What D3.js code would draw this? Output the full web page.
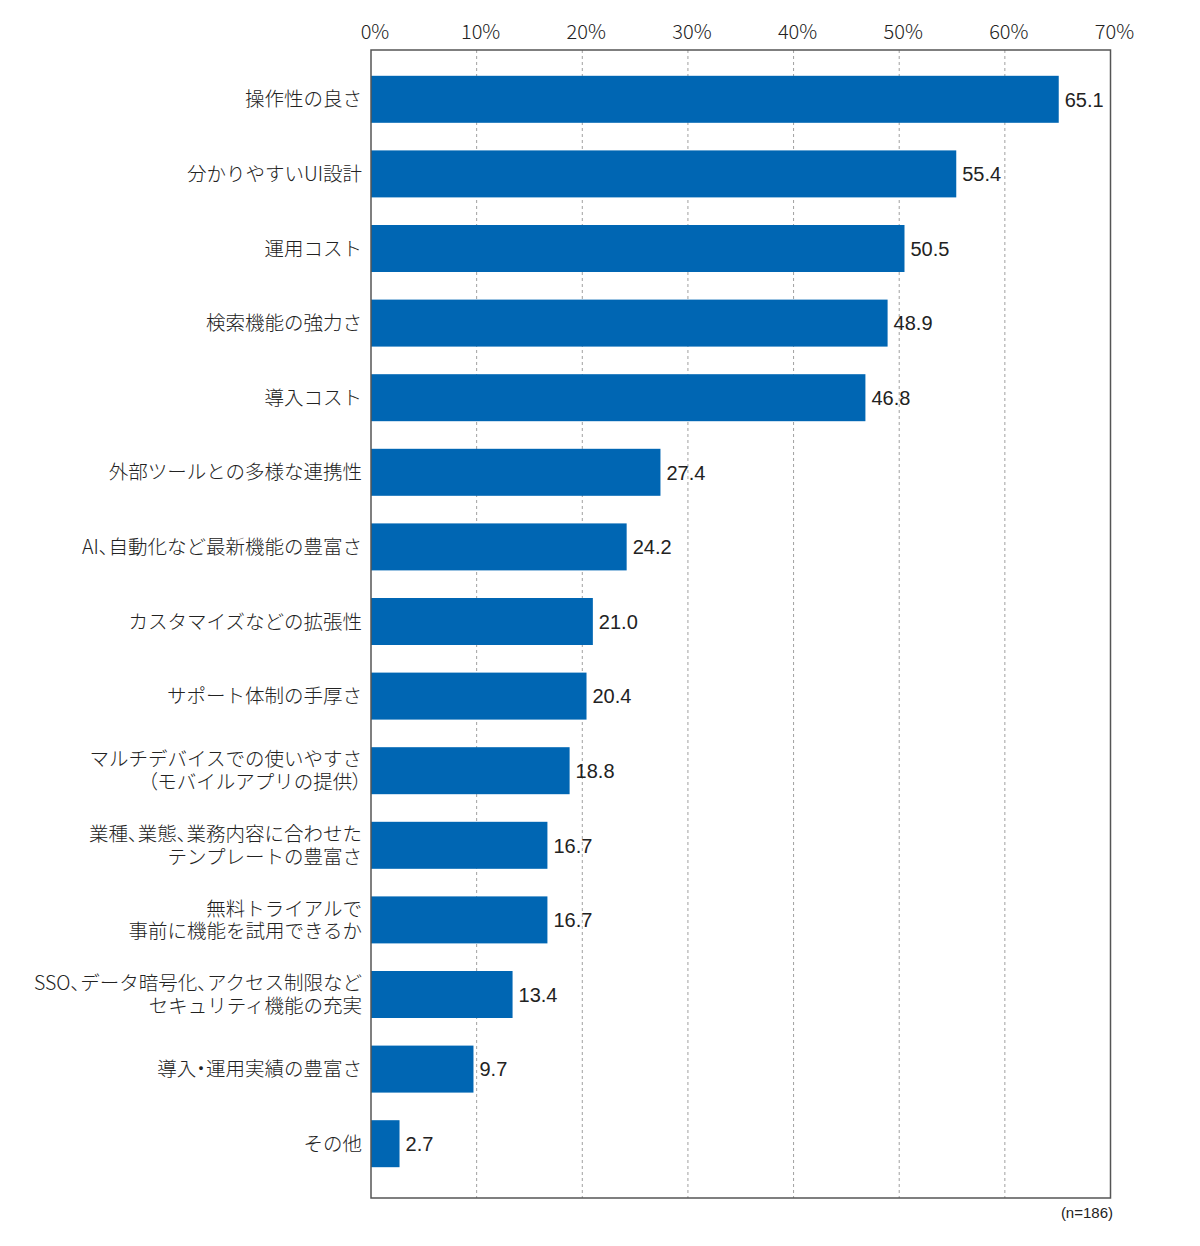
<!DOCTYPE html>
<html>
<head>
<meta charset="utf-8">
<script src="https://cdn.jsdelivr.net/npm/d3@7"></script>
<style>
  body { margin: 0; background: #fff; }
  svg { display: block; font-family: "Noto Sans CJK JP", "Noto Sans", sans-serif; }
  .cat, .tick { font-weight: 300; }
  .narrow { font-feature-settings: "palt"; }
  .num { font-family: "Liberation Sans", Arial, sans-serif; }
</style>
</head>
<body>
<svg id="chart" width="1200" height="1246"></svg>
<script>
// categories (top to bottom), multi-line labels split with "\n"
const categories = [
  "操作性の良さ",
  "分かりやすいUI設計",
  "運用コスト",
  "検索機能の強力さ",
  "導入コスト",
  "外部ツールとの多様な連携性",
  "AI、自動化など最新機能の豊富さ",
  "カスタマイズなどの拡張性",
  "サポート体制の手厚さ",
  "マルチデバイスでの使いやすさ\n（モバイルアプリの提供）",
  "業種、業態、業務内容に合わせた\nテンプレートの豊富さ",
  "無料トライアルで\n事前に機能を試用できるか",
  "SSO、データ暗号化、アクセス制限など\nセキュリティ機能の充実",
  "導入・運用実績の豊富さ",
  "その他"
];
const values = [65.1, 55.4, 50.5, 48.9, 46.8, 27.4, 24.2, 21.0, 20.4, 18.8, 16.7, 16.7, 13.4, 9.7, 2.7];
const xTicks = [0, 10, 20, 30, 40, 50, 60, 70];
const note = "(n=186)";

const svg = d3.select("#chart");
const plotLeft = 371, plotRight = 1110.5, plotTop = 50, plotBottom = 1198;

const x = d3.scaleLinear().domain([0, 70]).range([plotLeft, plotRight]);
const y = d3.scaleBand().domain(categories).range([plotTop + 12, plotTop + 1131])
  .paddingInner(0.37).paddingOuter(0.185);

// dashed vertical grid
svg.append("g").selectAll("line").data(xTicks.slice(1, -1)).join("line")
  .attr("x1", d => x(d)).attr("x2", d => x(d))
  .attr("y1", plotTop).attr("y2", plotBottom)
  .attr("stroke", "#a0a0a0").attr("stroke-width", 1)
  .attr("stroke-dasharray", "3,3");

// top tick labels
svg.append("g").attr("class", "tick").selectAll("text").data(xTicks).join("text")
  .attr("x", d => x(d) + 4).attr("y", 39)
  .attr("text-anchor", "middle")
  .attr("font-size", 20).attr("fill", "#222")
  .text(d => d + "%");

// bars
svg.append("g").selectAll("rect").data(values).join("rect")
  .attr("x", x(0))
  .attr("y", (d, i) => y(categories[i]))
  .attr("width", d => x(d) - x(0))
  .attr("height", y.bandwidth())
  .attr("fill", "#0066b3");

// value labels
svg.append("g").attr("class", "num").selectAll("text").data(values).join("text")
  .attr("x", d => x(d) + 6)
  .attr("y", (d, i) => y(categories[i]) + y.bandwidth() / 2)
  .attr("dy", "0.36em")
  .attr("font-size", 20).attr("fill", "#222")
  .text(d => d.toFixed(1));

// category labels; punctuation gets proportional width like the original
const cat = svg.append("g").attr("class", "cat").selectAll("text").data(categories).join("text")
  .attr("text-anchor", "end")
  .attr("font-size", 19.5).attr("fill", "#222")
  .attr("transform", d => `translate(362,${y(d) + y.bandwidth() / 2})`);
cat.each(function(d) {
  const lines = d.split("\n");
  const lh = 22.5;
  const t = d3.select(this);
  lines.forEach((l, i) => {
    const line = t.append("tspan")
      .attr("x", 0)
      .attr("y", (i - (lines.length - 1) / 2) * lh)
      .attr("dy", "0.36em");
    l.split(/([、・（）])/).filter(s => s).forEach(s => {
      line.append("tspan")
        .attr("class", /^[、・（）]$/.test(s) ? "narrow" : null)
        .text(s);
    });
  });
});

// frame
svg.append("rect")
  .attr("x", plotLeft).attr("y", plotTop)
  .attr("width", plotRight - plotLeft).attr("height", plotBottom - plotTop)
  .attr("fill", "none").attr("stroke", "#555").attr("stroke-width", 1.5);

// sample size note
svg.append("text").attr("class", "num")
  .attr("x", 1113).attr("y", 1218)
  .attr("text-anchor", "end")
  .attr("font-size", 15).attr("fill", "#222")
  .text(note);
</script>
</body>
</html>
